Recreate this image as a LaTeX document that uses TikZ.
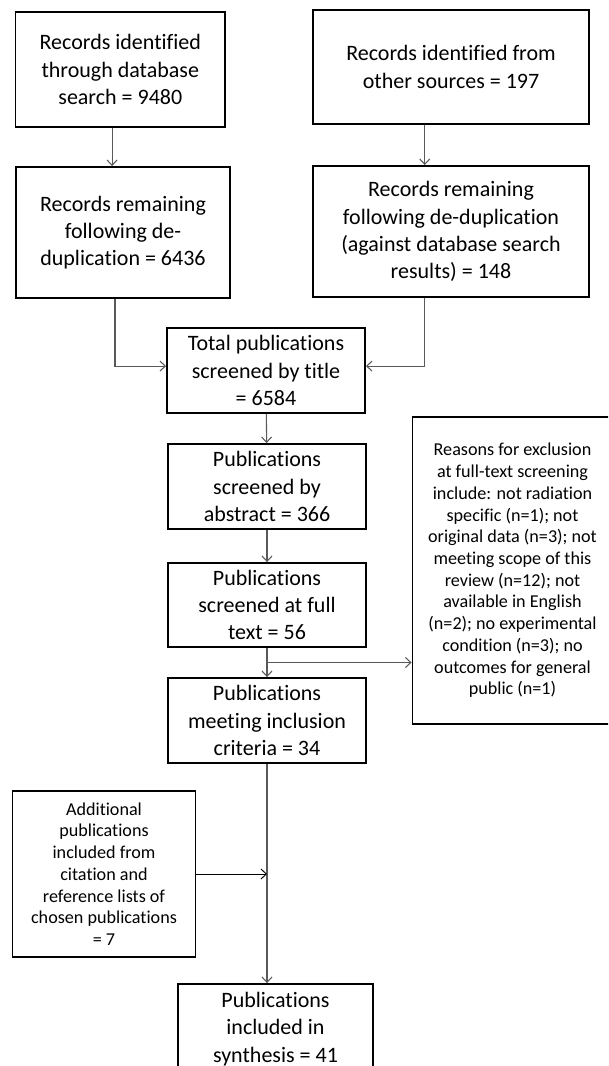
\documentclass[tikz,border=0pt]{standalone}
\usepackage{fontspec}
\setmainfont{Carlito}[Ligatures=NoCommon]
\usetikzlibrary{arrows,arrows.meta,positioning,calc}

\begin{document}
\begin{tikzpicture}[x=0.75pt,y=-0.75pt,
    midbox/.style={draw,line width=1.4pt,align=center,inner sep=0pt,font={\fontsize{16.5}{20.4}\selectfont}},
    smallbox/.style={draw,line width=1.4pt,align=center,inner sep=0pt,font={\fontsize{13.6}{16.3}\selectfont}},
    arr/.style={-{Straight Barb[length=4pt,width=7.5pt]},black!65,line width=0.8pt}]
    \useasboundingbox (0,0) rectangle (608,1066);
    \clip (0,0) rectangle (608,1066);

    \node[midbox,minimum width=209.5*0.75pt,minimum height=115.5*0.75pt] (db)    at (120.3,69.5) {Records identified\\through database\\search = 9480};
    \node[midbox,minimum width=276*0.75pt,minimum height=114*0.75pt]     (other) at (451,67)     {Records identified from\\other sources = 197};
    \node[midbox,minimum width=214.5*0.75pt,minimum height=131*0.75pt]   (dbrem) at (123,232.5)  {Records remaining\\following de-\\duplication = 6436};
    \node[midbox,minimum width=276*0.75pt,minimum height=131*0.75pt]     (otrem) at (451,231.5)  {Records remaining\\following de-duplication\\(against database search\\results) = 148};

    \node[midbox,minimum width=198*0.75pt,minimum height=85*0.75pt] (title)    at (266,370.5) {Total publications\\screened by title\\= 6584};
    \node[midbox,minimum width=198*0.75pt,minimum height=85*0.75pt] (abstract) at (267,486.5) {Publications\\screened by\\abstract = 366};
    \node[midbox,minimum width=198*0.75pt,minimum height=84*0.75pt] (fulltext) at (267,605)   {Publications\\screened at full\\text = 56};
    \node[midbox,minimum width=198*0.75pt,minimum height=85*0.75pt] (meeting)  at (267,720.5) {Publications\\meeting inclusion\\criteria = 34};
    \node[midbox,minimum width=195*0.75pt,minimum height=90*0.75pt] (synth)    at (275.5,1029) {Publications\\included in\\synthesis = 41};

    \node[smallbox,minimum width=200*0.75pt,minimum height=307*0.75pt] (excl) at (512.5,570.5)
        {Reasons for exclusion\\at full-text screening\\include: not radiation\\specific (n=1); not\\original data (n=3); not\\meeting scope of this\\review (n=12); not\\available in English\\(n=2); no experimental\\condition (n=3); no\\outcomes for general\\public (n=1)};
    \node[smallbox,minimum width=183*0.75pt,minimum height=166*0.75pt] (extra) at (104,874)
        {Additional\\publications\\included from\\citation and\\reference lists of\\chosen publications\\= 7};

    % connectors
    \draw[arr] ([xshift=-6.2pt]db.south) -- ([xshift=-6.2pt]db.south |- dbrem.north);
    \draw[arr] ([xshift=-19.7pt]other.south) -- ([xshift=-19.7pt]other.south |- otrem.north);
    \draw[arr] ([xshift=-6pt]dbrem.south) |- ([yshift=3.3pt]title.west);
    \draw[arr] ([xshift=-19.7pt]otrem.south) |- ([yshift=3.3pt]title.east);
    \draw[arr] (title) -- (abstract);
    \draw[arr] (abstract) -- (fulltext);
    \draw[arr] (fulltext) -- (meeting);
    \coordinate (split) at ($(fulltext.south)!0.5!(meeting.north)$);
    \draw[arr] (split) -- (split -| excl.west);
    \draw[arr] (meeting.south) -- (meeting.south |- synth.north);
    \draw[arr,black,line width=0.7pt] (extra.east) -- (extra.east -| meeting.south);
\end{tikzpicture}
\end{document}
